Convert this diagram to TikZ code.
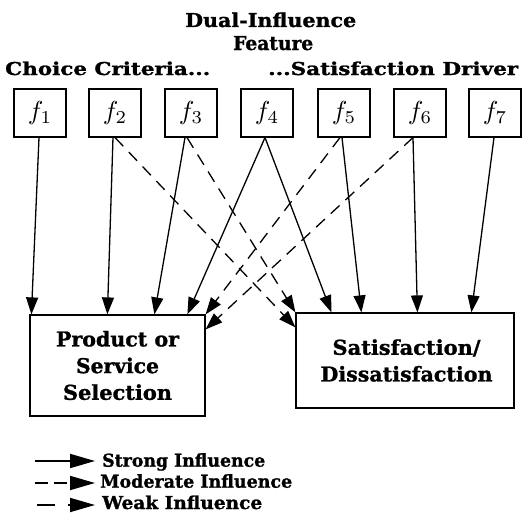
\documentclass[tikz,border=0pt]{standalone}
\usepackage{graphicx}
\usepackage{fontspec}
\setmainfont{DejaVu Serif}[BoldFeatures={FakeBold=1.2}]
\usetikzlibrary{arrows.meta}
\newcommand{\featlabel}[1]{\scalebox{2.6}{$f_{#1}$}}
\newcommand{\fittext}[3]{\resizebox{#1pt}{#2pt}{#3}}
\begin{document}
\begin{tikzpicture}[x=1pt,y=-1pt,
  feat/.style={draw,line width=1.1pt,minimum width=52pt,minimum height=48pt,inner sep=0pt,font=\fontsize{10}{12}\selectfont},
  outbox/.style={draw,line width=1.2pt,inner sep=0pt,align=center},
  strong/.style={line width=1.3pt,-{Triangle[length=17pt,width=12pt]}},
  moderate/.style={line width=1.3pt,dash pattern=on 12pt off 8pt,-{Triangle[length=17pt,width=12pt]}},
  headtxt/.style={font=\bfseries\fontsize{20}{24}\selectfont,inner sep=0pt},
  legtxt/.style={font=\bfseries\fontsize{17}{20}\selectfont,inner sep=0pt,anchor=base west}]
\useasboundingbox (0,0) rectangle (528,514);
% headings
\node[headtxt,anchor=base west] (dual) at (185,27) {\fittext{171}{14.5}{Dual-Influence}};
\node[headtxt,anchor=base west] (feature) at (233,50) {\fittext{80}{14}{Feature}};
\node[headtxt,anchor=base west] (choice) at (5,75) {\fittext{205}{13.5}{Choice Criteria...}};
\node[headtxt,anchor=base west] (satdrv) at (268,75) {\fittext{250}{13.5}{...Satisfaction Driver}};
% features
\node[feat] (f1) at (40,113) {\featlabel{1}};
\node[feat] (f2) at (115,113) {\featlabel{2}};
\node[feat] (f3) at (191,113) {\featlabel{3}};
\node[feat] (f4) at (267,113) {\featlabel{4}};
\node[feat] (f5) at (344,113) {\featlabel{5}};
\node[feat] (f6) at (420,113) {\featlabel{6}};
\node[feat] (f7) at (495,113) {\featlabel{7}};
% outcome boxes
\node[outbox,minimum width=175pt,minimum height=101pt,font=\bfseries\fontsize{20}{26.7}\selectfont] (prod) at (117.5,365.5)
  {\fittext{123}{15.5}{Product or}\\\fittext{83}{15.5}{Service}\\\fittext{109}{15.5}{Selection}};
\node[outbox,minimum width=218pt,minimum height=95pt,font=\bfseries\fontsize{20}{26.7}\selectfont] (sat) at (405,360.5)
  {\hspace*{3pt}\fittext{148}{15.5}{Satisfaction/}\\\hspace*{3pt}\fittext{172}{15.5}{Dissatisfaction}};
% strong influences
\draw[strong] ([xshift=-1pt]f1.south) -- ([xshift=2pt]prod.north west);
\draw[strong] ([xshift=-2pt]f2.south) -- ([xshift=78pt]prod.north west);
\draw[strong] ([xshift=-6pt]f3.south) -- ([xshift=125pt]prod.north west);
\draw[strong] ([xshift=-2pt]f4.south) -- ([xshift=158pt]prod.north west);
\draw[strong] ([xshift=-2pt]f4.south) -- ([xshift=36pt]sat.north west);
\draw[strong] ([xshift=-2pt]f5.south) -- ([xshift=66pt]sat.north west);
\draw[strong] ([xshift=-7pt]f6.south) -- ([xshift=122pt]sat.north west);
\draw[strong] ([xshift=-1pt]f7.south) -- ([xshift=176pt]sat.north west);
% moderate influences
\draw[moderate] (f2.south) -- ([yshift=-15pt]sat.north west);
\draw[moderate] ([xshift=-4pt]f3.south) -- (sat.north west);
\draw[moderate] ([xshift=-4pt]f5.south) -- (prod.north east);
\draw[moderate] ([xshift=-7pt]f6.south) -- ([yshift=-15pt]prod.north east);
% legend
\coordinate (s0) at (35,461); \coordinate (s1) at (95,461);
\coordinate (m0) at (35,483); \coordinate (m1) at (95,483);
\coordinate (w0) at (37,505); \coordinate (w1) at (55,505);
\coordinate (w2) at (68,505); \coordinate (w3) at (95,505);
\draw[line width=1.8pt,-{Triangle[length=25pt,width=14pt]}] (s0) -- (s1);
\draw[line width=1.8pt,dash pattern=on 13pt off 6pt,-{Triangle[length=25pt,width=14pt]}] (m0) -- (m1);
\draw[line width=1.8pt] (w0) -- (w1);
\draw[line width=1.8pt,-{Triangle[length=25pt,width=14pt]}] (w2) -- (w3);
\node[legtxt] (lstrong) at (102,466.7) {\fittext{163}{13.5}{Strong Influence}};
\node[legtxt] (lmod) at (100,487.7) {\fittext{192}{13.5}{Moderate Influence}};
\node[legtxt] (lweak) at (102,509) {\fittext{160}{13.5}{Weak Influence}};
\end{tikzpicture}
\end{document}
